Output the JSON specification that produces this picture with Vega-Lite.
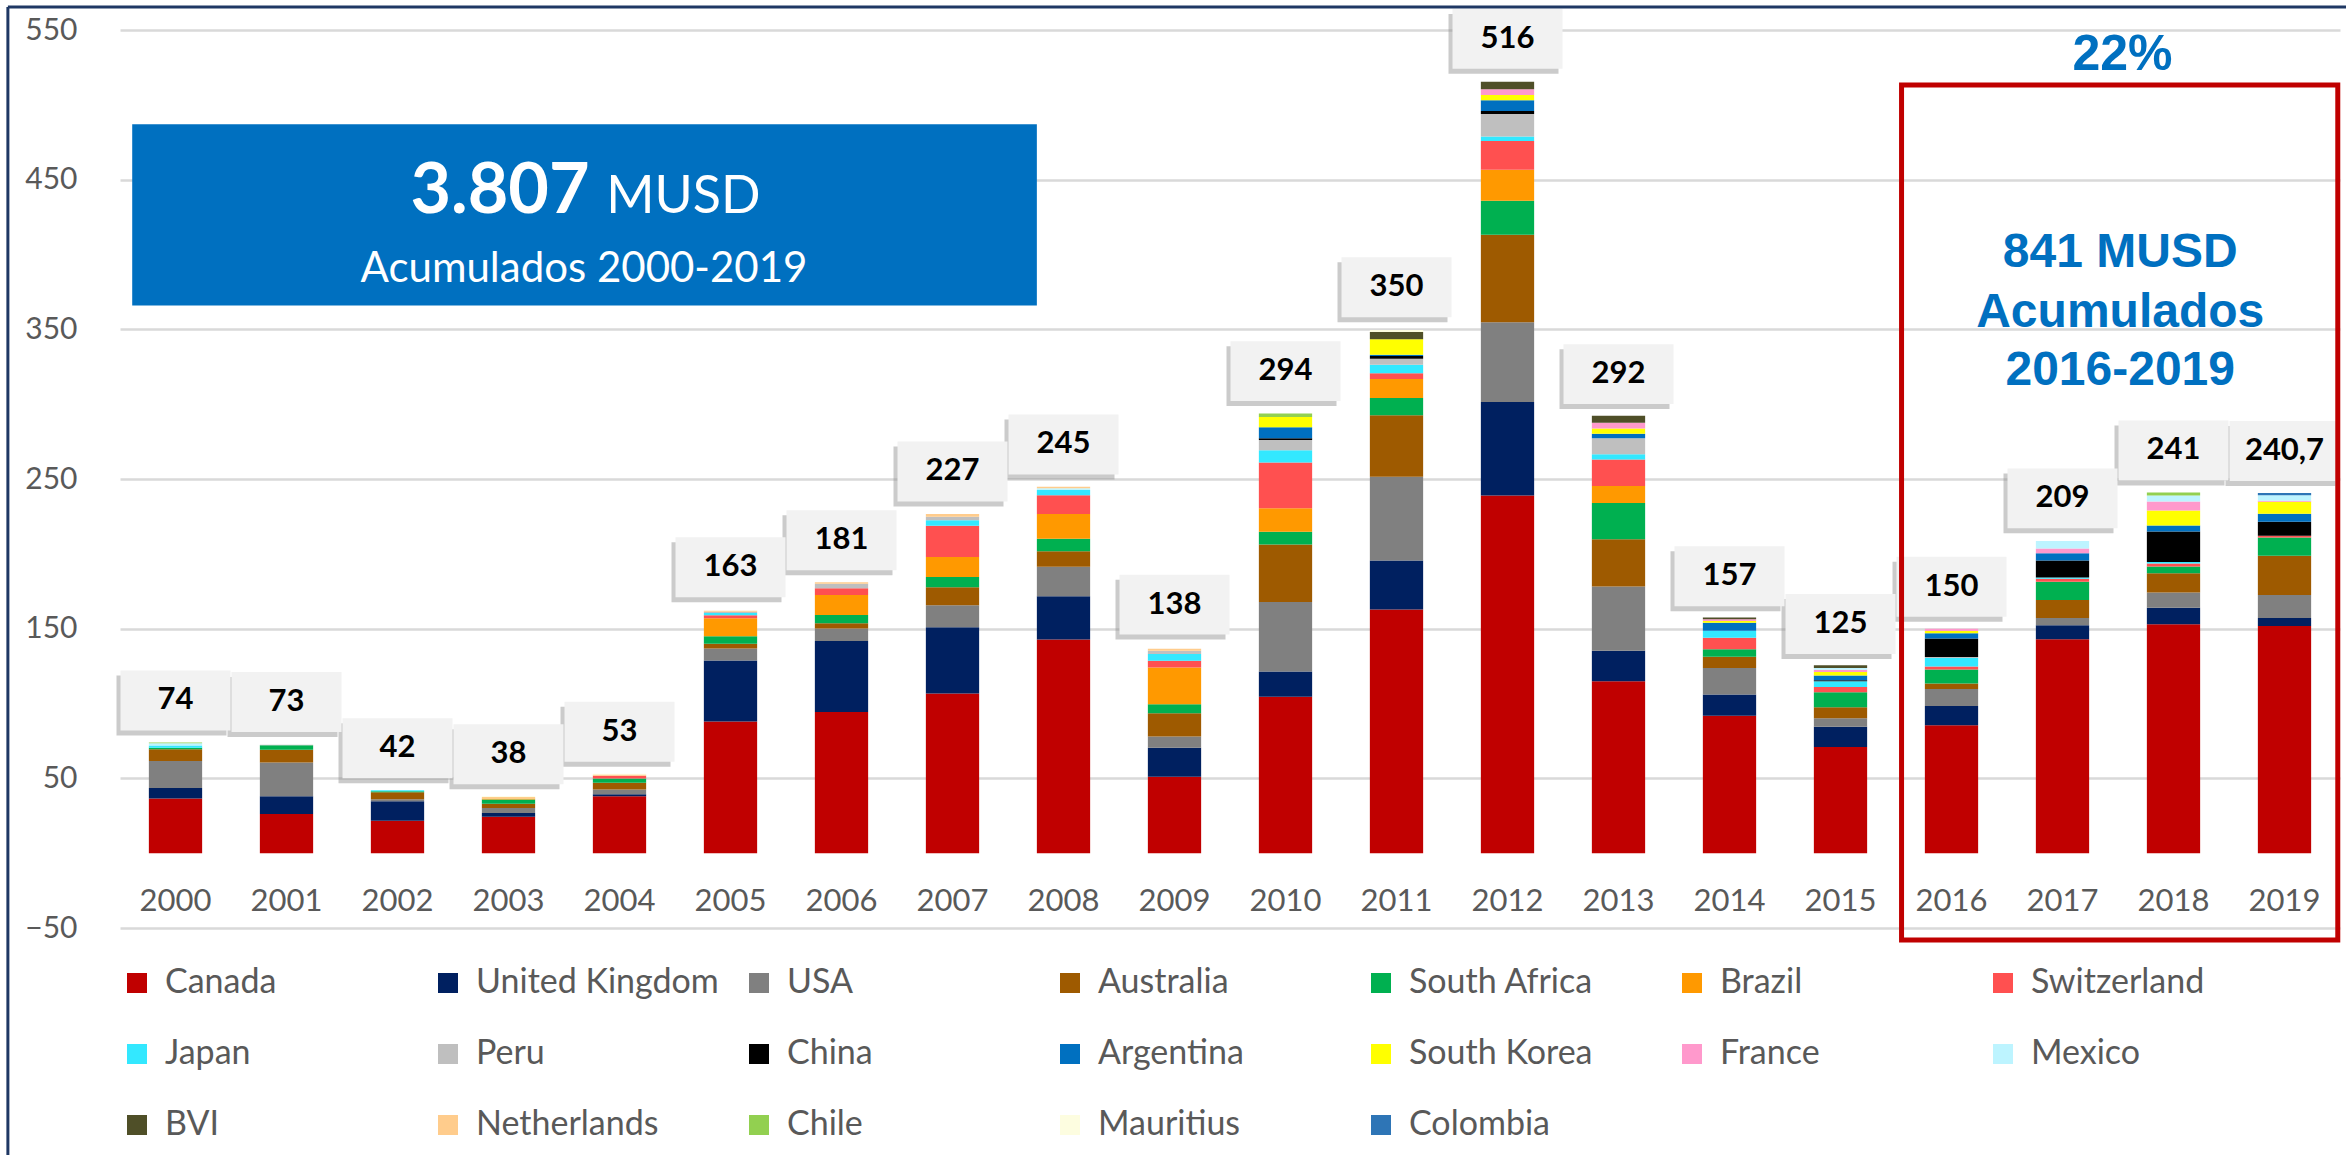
{
  "$schema": "https://vega.github.io/schema/vega-lite/v6.json",
  "width": 2220,
  "height": 898,
  "autosize": "none",
  "padding": {"left": 120, "top": 30, "right": 6, "bottom": 227},
  "background": "white",
  "config": {"view": {"stroke": null}},
  "datasets": {
    "inv": [
      {"year":"2000","country":"Canada","value":36.5},{"year":"2000","country":"United Kingdom","value":7},{"year":"2000","country":"USA","value":18},{"year":"2000","country":"Australia","value":8},{"year":"2000","country":"South Africa","value":1},{"year":"2000","country":"Japan","value":1.5},{"year":"2000","country":"Mexico","value":1.5},{"year":"2000","country":"Chile","value":0.5},
      {"year":"2001","country":"Canada","value":26.2},{"year":"2001","country":"United Kingdom","value":11.8},{"year":"2001","country":"USA","value":22.6},{"year":"2001","country":"Australia","value":8.5},{"year":"2001","country":"South Africa","value":3},{"year":"2001","country":"Peru","value":0.4},
      {"year":"2002","country":"Canada","value":21.7},{"year":"2002","country":"United Kingdom","value":13},{"year":"2002","country":"USA","value":1.4},{"year":"2002","country":"Australia","value":4.6},{"year":"2002","country":"South Africa","value":0.6},{"year":"2002","country":"Japan","value":0.8},
      {"year":"2003","country":"Canada","value":24.4},{"year":"2003","country":"United Kingdom","value":2.4},{"year":"2003","country":"USA","value":3.4},{"year":"2003","country":"Australia","value":2.9},{"year":"2003","country":"South Africa","value":2.7},{"year":"2003","country":"Brazil","value":0.8},{"year":"2003","country":"Netherlands","value":1},{"year":"2003","country":"Mauritius","value":0.5},
      {"year":"2004","country":"Canada","value":38},{"year":"2004","country":"United Kingdom","value":1.3},{"year":"2004","country":"USA","value":3.2},{"year":"2004","country":"Australia","value":4.5},{"year":"2004","country":"South Africa","value":2.9},{"year":"2004","country":"Switzerland","value":1.8},{"year":"2004","country":"Netherlands","value":0.8},{"year":"2004","country":"Mauritius","value":0.6},
      {"year":"2005","country":"Canada","value":88},{"year":"2005","country":"United Kingdom","value":40.7},{"year":"2005","country":"USA","value":8},{"year":"2005","country":"Australia","value":3.3},{"year":"2005","country":"South Africa","value":5},{"year":"2005","country":"Brazil","value":12},{"year":"2005","country":"Switzerland","value":2},{"year":"2005","country":"Japan","value":1.5},{"year":"2005","country":"Peru","value":0.8},{"year":"2005","country":"Netherlands","value":0.7},
      {"year":"2006","country":"Canada","value":94.3},{"year":"2006","country":"United Kingdom","value":47.5},{"year":"2006","country":"USA","value":8.3},{"year":"2006","country":"Australia","value":3.6},{"year":"2006","country":"South Africa","value":5.4},{"year":"2006","country":"Brazil","value":13.4},{"year":"2006","country":"Switzerland","value":4.5},{"year":"2006","country":"Peru","value":3},{"year":"2006","country":"Netherlands","value":1},
      {"year":"2007","country":"Canada","value":106.6},{"year":"2007","country":"United Kingdom","value":44.4},{"year":"2007","country":"USA","value":14.7},{"year":"2007","country":"Australia","value":11.9},{"year":"2007","country":"South Africa","value":6.9},{"year":"2007","country":"Brazil","value":13.4},{"year":"2007","country":"Switzerland","value":20.9},{"year":"2007","country":"Japan","value":3.6},{"year":"2007","country":"Peru","value":2.4},{"year":"2007","country":"Netherlands","value":1.8},
      {"year":"2008","country":"Canada","value":142.7},{"year":"2008","country":"United Kingdom","value":28.9},{"year":"2008","country":"USA","value":19.7},{"year":"2008","country":"Australia","value":10.5},{"year":"2008","country":"South Africa","value":8.3},{"year":"2008","country":"Brazil","value":16.5},{"year":"2008","country":"Switzerland","value":12.5},{"year":"2008","country":"Japan","value":3.6},{"year":"2008","country":"Mexico","value":1.2},{"year":"2008","country":"Netherlands","value":0.9},
      {"year":"2009","country":"Canada","value":51},{"year":"2009","country":"United Kingdom","value":19.5},{"year":"2009","country":"USA","value":7.5},{"year":"2009","country":"Australia","value":15.5},{"year":"2009","country":"South Africa","value":6},{"year":"2009","country":"Brazil","value":24.5},{"year":"2009","country":"Switzerland","value":4.5},{"year":"2009","country":"Japan","value":4.5},{"year":"2009","country":"Peru","value":2.2},{"year":"2009","country":"Netherlands","value":1.3},
      {"year":"2010","country":"Canada","value":104.5},{"year":"2010","country":"United Kingdom","value":16.9},{"year":"2010","country":"USA","value":46.4},{"year":"2010","country":"Australia","value":38.4},{"year":"2010","country":"South Africa","value":8.5},{"year":"2010","country":"Brazil","value":15.7},{"year":"2010","country":"Switzerland","value":30.7},{"year":"2010","country":"Japan","value":8.1},{"year":"2010","country":"Peru","value":6.9},{"year":"2010","country":"China","value":1.2},{"year":"2010","country":"Argentina","value":7.3},{"year":"2010","country":"South Korea","value":6.9},{"year":"2010","country":"Chile","value":2.3},
      {"year":"2011","country":"Canada","value":162.8},{"year":"2011","country":"United Kingdom","value":32.7},{"year":"2011","country":"USA","value":56},{"year":"2011","country":"Australia","value":41.1},{"year":"2011","country":"South Africa","value":11.5},{"year":"2011","country":"Brazil","value":12.7},{"year":"2011","country":"Switzerland","value":3.9},{"year":"2011","country":"Japan","value":5.7},{"year":"2011","country":"Peru","value":3.9},{"year":"2011","country":"China","value":1.9},{"year":"2011","country":"Argentina","value":0.8},{"year":"2011","country":"South Korea","value":10.3},{"year":"2011","country":"BVI","value":5},{"year":"2011","country":"Mauritius","value":1.2},
      {"year":"2012","country":"Canada","value":238.9},{"year":"2012","country":"United Kingdom","value":62.6},{"year":"2012","country":"USA","value":53.3},{"year":"2012","country":"Australia","value":58.4},{"year":"2012","country":"South Africa","value":22.7},{"year":"2012","country":"Brazil","value":20.7},{"year":"2012","country":"Switzerland","value":19.2},{"year":"2012","country":"Japan","value":3.1},{"year":"2012","country":"Peru","value":15},{"year":"2012","country":"China","value":1.9},{"year":"2012","country":"Argentina","value":7.3},{"year":"2012","country":"South Korea","value":3.4},{"year":"2012","country":"France","value":3.9},{"year":"2012","country":"BVI","value":5},
      {"year":"2013","country":"Canada","value":114.8},{"year":"2013","country":"United Kingdom","value":20.4},{"year":"2013","country":"USA","value":43},{"year":"2013","country":"Australia","value":31.5},{"year":"2013","country":"South Africa","value":24.2},{"year":"2013","country":"Brazil","value":11.5},{"year":"2013","country":"Switzerland","value":17.7},{"year":"2013","country":"Japan","value":3.4},{"year":"2013","country":"Peru","value":10.8},{"year":"2013","country":"Argentina","value":3},{"year":"2013","country":"South Korea","value":3.5},{"year":"2013","country":"France","value":3.8},{"year":"2013","country":"BVI","value":4.6},
      {"year":"2014","country":"Canada","value":91.8},{"year":"2014","country":"United Kingdom","value":14.2},{"year":"2014","country":"USA","value":17.7},{"year":"2014","country":"Australia","value":7.6},{"year":"2014","country":"South Africa","value":5},{"year":"2014","country":"Switzerland","value":7.7},{"year":"2014","country":"Japan","value":4.6},{"year":"2014","country":"Argentina","value":5.4},{"year":"2014","country":"South Korea","value":1.1},{"year":"2014","country":"France","value":1.2},{"year":"2014","country":"BVI","value":1.2},
      {"year":"2015","country":"Canada","value":71},{"year":"2015","country":"United Kingdom","value":13.5},{"year":"2015","country":"USA","value":5.7},{"year":"2015","country":"Australia","value":7.3},{"year":"2015","country":"South Africa","value":10},{"year":"2015","country":"Switzerland","value":3.5},{"year":"2015","country":"Japan","value":3.8},{"year":"2015","country":"China","value":0.8},{"year":"2015","country":"Argentina","value":3.1},{"year":"2015","country":"South Korea","value":2.3},{"year":"2015","country":"France","value":1.5},{"year":"2015","country":"Mexico","value":1.2},{"year":"2015","country":"BVI","value":1.9},
      {"year":"2016","country":"Canada","value":85.4},{"year":"2016","country":"United Kingdom","value":13},{"year":"2016","country":"USA","value":11.3},{"year":"2016","country":"Australia","value":3.7},{"year":"2016","country":"South Africa","value":9.3},{"year":"2016","country":"Switzerland","value":2},{"year":"2016","country":"Japan","value":5.7},{"year":"2016","country":"Peru","value":0.6},{"year":"2016","country":"China","value":12.5},{"year":"2016","country":"Argentina","value":3.4},{"year":"2016","country":"South Korea","value":1.6},{"year":"2016","country":"France","value":1.5},
      {"year":"2017","country":"Canada","value":142.9},{"year":"2017","country":"United Kingdom","value":9.3},{"year":"2017","country":"USA","value":4.9},{"year":"2017","country":"Australia","value":12.1},{"year":"2017","country":"South Africa","value":12.2},{"year":"2017","country":"Switzerland","value":2},{"year":"2017","country":"Japan","value":0.8},{"year":"2017","country":"China","value":11.3},{"year":"2017","country":"Argentina","value":4.9},{"year":"2017","country":"France","value":3.2},{"year":"2017","country":"Mexico","value":4.9},
      {"year":"2018","country":"Canada","value":153},{"year":"2018","country":"United Kingdom","value":11},{"year":"2018","country":"USA","value":10.1},{"year":"2018","country":"Australia","value":12.9},{"year":"2018","country":"South Africa","value":4.5},{"year":"2018","country":"Switzerland","value":2},{"year":"2018","country":"Japan","value":1},{"year":"2018","country":"China","value":20.5},{"year":"2018","country":"Argentina","value":4},{"year":"2018","country":"South Korea","value":10},{"year":"2018","country":"France","value":6},{"year":"2018","country":"Mexico","value":4},{"year":"2018","country":"Chile","value":2},
      {"year":"2019","country":"Canada","value":151.8},{"year":"2019","country":"United Kingdom","value":5.3},{"year":"2019","country":"USA","value":15.4},{"year":"2019","country":"Australia","value":26.3},{"year":"2019","country":"South Africa","value":12.1},{"year":"2019","country":"Switzerland","value":1.2},{"year":"2019","country":"China","value":9.4},{"year":"2019","country":"Argentina","value":5.3},{"year":"2019","country":"South Korea","value":8},{"year":"2019","country":"France","value":0.7},{"year":"2019","country":"Mexico","value":3.6},{"year":"2019","country":"Colombia","value":1.6}
    ],
    "totals": [
      {"year":"2000","total":74,"label":"74"},{"year":"2001","total":73,"label":"73"},{"year":"2002","total":42,"label":"42"},{"year":"2003","total":38,"label":"38"},{"year":"2004","total":53,"label":"53"},
      {"year":"2005","total":163,"label":"163"},{"year":"2006","total":181,"label":"181"},{"year":"2007","total":227,"label":"227"},{"year":"2008","total":245,"label":"245"},{"year":"2009","total":138,"label":"138"},
      {"year":"2010","total":294,"label":"294"},{"year":"2011","total":350,"label":"350"},{"year":"2012","total":516,"label":"516"},{"year":"2013","total":292,"label":"292"},{"year":"2014","total":157,"label":"157"},
      {"year":"2015","total":125,"label":"125"},{"year":"2016","total":150,"label":"150"},{"year":"2017","total":209,"label":"209"},{"year":"2018","total":241,"label":"241"},{"year":"2019","total":240.7,"label":"240,7"}
    ]
  },
  "layer": [
    {
      "layer": [
        {
          "data": {"name": "inv"},
          "transform": [
            {"calculate": "indexof(['Canada','United Kingdom','USA','Australia','South Africa','Brazil','Switzerland','Japan','Peru','China','Argentina','South Korea','France','Mexico','BVI','Netherlands','Chile','Mauritius','Colombia'], datum.country)", "as": "stackOrder"}
          ],
          "mark": {"type": "bar"},
          "encoding": {
            "x": {"field": "year", "type": "nominal", "axis": null, "scale": {"paddingInner": 0.52, "paddingOuter": 0.26}},
            "y": {"field": "value", "type": "quantitative", "stack": "zero",
                  "scale": {"domain": [-50, 550], "nice": false, "zero": false},
                  "axis": {"title": null, "values": [-50, 50, 150, 250, 350, 450, 550], "grid": true, "gridColor": "#D9D9D9", "gridWidth": 2.5, "domain": false, "ticks": false, "labelFont": "Lato", "labelFontSize": 30, "labelColor": "#595959", "labelPadding": 43}},
            "color": {"field": "country", "type": "nominal",
              "scale": {
                "domain": ["Canada","United Kingdom","USA","Australia","South Africa","Brazil","Switzerland","Japan","Peru","China","Argentina","South Korea","France","Mexico","BVI","Netherlands","Chile","Mauritius","Colombia"],
                "range": ["#C00000","#002060","#808080","#9E5A00","#00B050","#FF9900","#FF5050","#33E8FF","#BFBFBF","#000000","#0070C0","#FFFF00","#FF99CC","#BDF4FF","#4F4F28","#FFCC8C","#92D050","#FDFDE0","#2E75B6"]
              },
              "legend": {"title": null, "orient": "none", "direction": "horizontal", "legendX": 0, "legendY": 936, "columns": 7, "gridAlign": "all", "columnPadding": 23, "rowPadding": 37, "symbolType": "square", "symbolSize": 400, "symbolStrokeWidth": 0, "labelFont": "Lato", "labelFontSize": 34, "labelColor": "#595959", "labelOffset": 11, "labelLimit": 400, "padding": 0}
            },
            "order": {"field": "stackOrder", "type": "quantitative", "sort": "ascending"}
          }
        },
        {
          "mark": {"type": "rule", "color": "#D9D9D9", "strokeWidth": 2.5},
          "encoding": {"y": {"datum": 0, "type": "quantitative", "scale": {"domain": [-50, 550], "nice": false, "zero": false}, "axis": {"title": null}}}
        },
        {
          "data": {"name": "totals"},
          "mark": {"type": "point", "shape": "M-1,-0.545L1,-0.545L1,0.545L-1,0.545Z", "size": 12100, "filled": true, "color": "#8C8C8C", "opacity": 0.45, "xOffset": -4, "yOffset": -37},
          "encoding": {
            "x": {"field": "year", "type": "nominal", "axis": null},
            "y": {"field": "total", "type": "quantitative", "scale": {"domain": [-50, 550], "nice": false, "zero": false}, "axis": {"title": null}}
          }
        },
        {
          "data": {"name": "totals"},
          "mark": {"type": "point", "shape": "M-1,-0.545L1,-0.545L1,0.545L-1,0.545Z", "size": 12100, "filled": true, "color": "#F2F2F2", "opacity": 1, "yOffset": -42},
          "encoding": {
            "x": {"field": "year", "type": "nominal", "axis": null},
            "y": {"field": "total", "type": "quantitative", "scale": {"domain": [-50, 550], "nice": false, "zero": false}, "axis": {"title": null}}
          }
        },
        {
          "data": {"name": "totals"},
          "mark": {"type": "text", "font": "Lato", "fontWeight": "bold", "fontSize": 31, "color": "#000000", "baseline": "middle", "yOffset": -42},
          "encoding": {
            "x": {"field": "year", "type": "nominal", "axis": null},
            "y": {"field": "total", "type": "quantitative", "scale": {"domain": [-50, 550], "nice": false, "zero": false}, "axis": {"title": null}},
            "text": {"field": "label"}
          }
        },
        {
          "data": {"name": "totals"},
          "mark": {"type": "text", "font": "Lato", "fontSize": 31, "color": "#595959", "baseline": "middle"},
          "encoding": {
            "x": {"field": "year", "type": "nominal", "axis": null},
            "y": {"datum": -32.6, "type": "quantitative", "scale": {"domain": [-50, 550], "nice": false, "zero": false}, "axis": {"title": null}},
            "text": {"field": "year"}
          }
        }
      ]
    },
    {
      "data": {"values": [{}]},
      "layer": [
        {
          "mark": {"type": "rect", "color": "#0070C0"},
          "encoding": {
            "x": {"datum": -0.39, "type": "quantitative", "scale": {"domain": [-0.5, 19.5], "nice": false, "zero": false}, "axis": null},
            "x2": {"datum": 7.76},
            "y": {"datum": 487, "type": "quantitative", "scale": {"domain": [-50, 550], "nice": false, "zero": false}, "axis": {"title": null}},
            "y2": {"datum": 366}
          }
        },
        {
          "mark": {"type": "text", "font": "Lato", "fontWeight": "bold", "fontSize": 70, "color": "white", "align": "right", "baseline": "alphabetic", "text": "3.807"},
          "encoding": {
            "x": {"datum": 3.73, "type": "quantitative", "scale": {"domain": [-0.5, 19.5], "nice": false, "zero": false}, "axis": null},
            "y": {"datum": 427.7, "type": "quantitative", "scale": {"domain": [-50, 550], "nice": false, "zero": false}, "axis": {"title": null}}
          }
        },
        {
          "mark": {"type": "text", "font": "Lato", "fontSize": 52, "color": "white", "align": "left", "baseline": "alphabetic", "text": "MUSD"},
          "encoding": {
            "x": {"datum": 3.88, "type": "quantitative", "scale": {"domain": [-0.5, 19.5], "nice": false, "zero": false}, "axis": null},
            "y": {"datum": 427.7, "type": "quantitative", "scale": {"domain": [-50, 550], "nice": false, "zero": false}, "axis": {"title": null}}
          }
        },
        {
          "mark": {"type": "text", "font": "Lato", "fontSize": 42, "color": "white", "align": "center", "baseline": "alphabetic", "text": "Acumulados 2000-2019"},
          "encoding": {
            "x": {"datum": 3.68, "type": "quantitative", "scale": {"domain": [-0.5, 19.5], "nice": false, "zero": false}, "axis": null},
            "y": {"datum": 381.6, "type": "quantitative", "scale": {"domain": [-50, 550], "nice": false, "zero": false}, "axis": {"title": null}}
          }
        },
        {
          "mark": {"type": "rect", "fillOpacity": 0, "stroke": "#C00000", "strokeWidth": 5},
          "encoding": {
            "x": {"datum": 15.55, "type": "quantitative", "scale": {"domain": [-0.5, 19.5], "nice": false, "zero": false}, "axis": null},
            "x2": {"datum": 19.48},
            "y": {"datum": 513.2, "type": "quantitative", "scale": {"domain": [-50, 550], "nice": false, "zero": false}, "axis": {"title": null}},
            "y2": {"datum": -58}
          }
        },
        {
          "mark": {"type": "text", "font": "Liberation Sans", "fontWeight": "bold", "fontSize": 50, "color": "#0070C0", "align": "center", "baseline": "alphabetic", "text": "22%"},
          "encoding": {
            "x": {"datum": 17.54, "type": "quantitative", "scale": {"domain": [-0.5, 19.5], "nice": false, "zero": false}, "axis": null},
            "y": {"datum": 523.3, "type": "quantitative", "scale": {"domain": [-50, 550], "nice": false, "zero": false}, "axis": {"title": null}}
          }
        },
        {
          "mark": {"type": "text", "font": "Liberation Sans", "fontWeight": "bold", "fontSize": 48, "color": "#0070C0", "align": "center", "baseline": "alphabetic", "text": "841 MUSD"},
          "encoding": {
            "x": {"datum": 17.52, "type": "quantitative", "scale": {"domain": [-0.5, 19.5], "nice": false, "zero": false}, "axis": null},
            "y": {"datum": 391.6, "type": "quantitative", "scale": {"domain": [-50, 550], "nice": false, "zero": false}, "axis": {"title": null}}
          }
        },
        {
          "mark": {"type": "text", "font": "Liberation Sans", "fontWeight": "bold", "fontSize": 48, "color": "#0070C0", "align": "center", "baseline": "alphabetic", "text": "Acumulados"},
          "encoding": {
            "x": {"datum": 17.52, "type": "quantitative", "scale": {"domain": [-0.5, 19.5], "nice": false, "zero": false}, "axis": null},
            "y": {"datum": 351.5, "type": "quantitative", "scale": {"domain": [-50, 550], "nice": false, "zero": false}, "axis": {"title": null}}
          }
        },
        {
          "mark": {"type": "text", "font": "Liberation Sans", "fontWeight": "bold", "fontSize": 48, "color": "#0070C0", "align": "center", "baseline": "alphabetic", "text": "2016-2019"},
          "encoding": {
            "x": {"datum": 17.52, "type": "quantitative", "scale": {"domain": [-0.5, 19.5], "nice": false, "zero": false}, "axis": null},
            "y": {"datum": 312.8, "type": "quantitative", "scale": {"domain": [-50, 550], "nice": false, "zero": false}, "axis": {"title": null}}
          }
        },
        {
          "mark": {"type": "rule", "color": "#1F3864", "strokeWidth": 3},
          "encoding": {
            "x": {"datum": -1.51, "type": "quantitative", "scale": {"domain": [-0.5, 19.5], "nice": false, "zero": false}, "axis": null},
            "y": {"datum": 565.4, "type": "quantitative", "scale": {"domain": [-50, 550], "nice": false, "zero": false}, "axis": {"title": null}},
            "y2": {"datum": -215}
          }
        },
        {
          "mark": {"type": "rule", "color": "#1F3864", "strokeWidth": 3},
          "encoding": {
            "x": {"datum": -1.51, "type": "quantitative", "scale": {"domain": [-0.5, 19.5], "nice": false, "zero": false}, "axis": null},
            "x2": {"datum": 20.5},
            "y": {"datum": 565.4, "type": "quantitative", "scale": {"domain": [-50, 550], "nice": false, "zero": false}, "axis": {"title": null}}
          }
        }
      ]
    }
  ],
  "resolve": {"scale": {"x": "independent"}, "axis": {"x": "independent"}}
}
